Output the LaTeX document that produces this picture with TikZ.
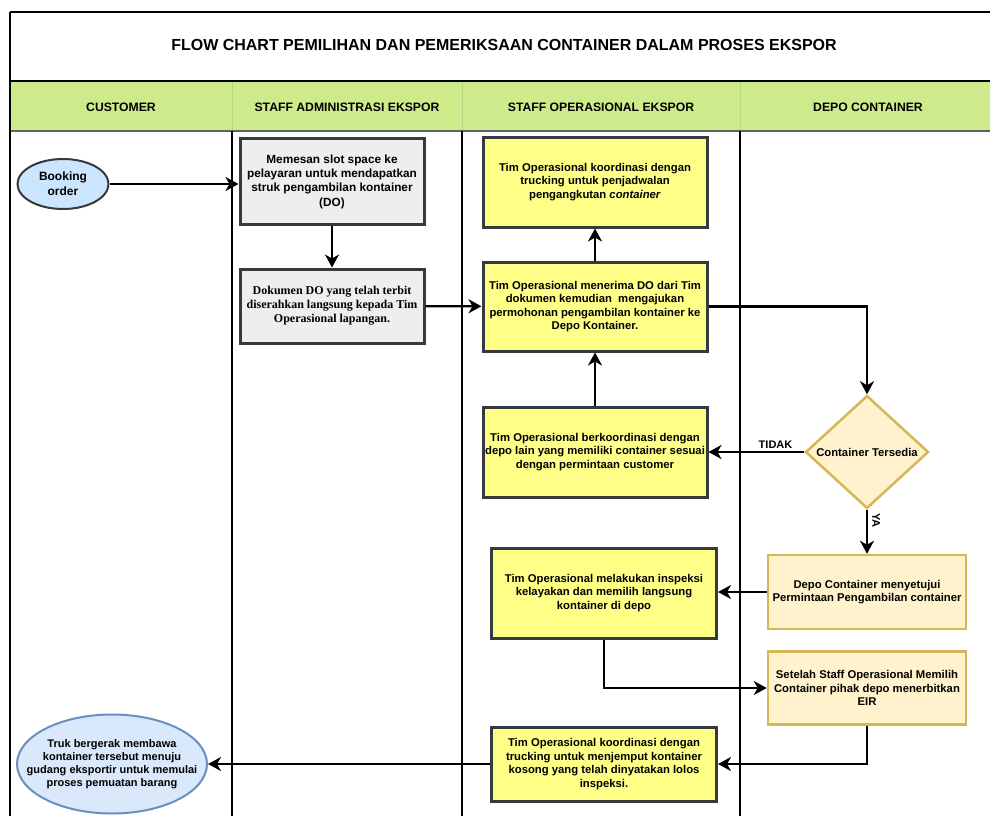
\documentclass[tikz,border=0pt]{standalone}
\usepackage{fontspec}
\setmainfont{Liberation Sans}
\newfontfamily\timesfont{Liberation Serif}
\usepackage{xcolor}
\usepackage{tikz}
\usetikzlibrary{
    arrows.meta,
    shapes.geometric,
}

\definecolor{laneGreen}{HTML}{CDEB8B}
\definecolor{laneGreenLine}{HTML}{B7D685}
\definecolor{boxGrey}{HTML}{EEEEEE}
\definecolor{boxBorder}{HTML}{36393D}
\definecolor{boxYellow}{HTML}{FFFF88}
\definecolor{depoFill}{HTML}{FFF2CC}
\definecolor{depoBorder}{HTML}{D6B656}
\definecolor{startFill}{HTML}{CCE5FF}
\definecolor{endFill}{HTML}{DAE8FC}
\definecolor{endBorder}{HTML}{6C8EBF}

\begin{document}
\begin{tikzpicture}[
    x=1pt,y=-1pt,
    font=\fontsize{11.3}{13.5}\selectfont\bfseries,
    admbox/.style={draw=boxBorder,fill=boxGrey,line width=3pt,
        minimum width=184,minimum height=#1,inner sep=0pt,align=center,
        font=\fontsize{11.8}{14.3}\selectfont\bfseries},
    opsbox/.style={draw=boxBorder,fill=boxYellow,line width=3pt,
        minimum width=224,minimum height=#1,inner sep=0pt,align=center},
    depobox/.style={draw=depoBorder,fill=depoFill,line width=2.5pt,
        minimum width=198,minimum height=#1,inner sep=0pt,align=center},
    conn/.style={draw=black,line width=2.3pt,
        -{Stealth[length=13pt,width=14pt,inset=4pt]}},
    lane/.style={draw=black,line width=2pt},
]
    \useasboundingbox (0,0) rectangle (990,816);
    % \draw[help lines] grid (990,816);

    % Header
    \begin{scope}
        % Title
        \draw[black,line width=2pt] (10,12) -- (1000,12);
        \node[font=\fontsize{16}{18}\selectfont\bfseries] (title) at (504,45)
            {FLOW CHART PEMILIHAN DAN PEMERIKSAAN CONTAINER DALAM PROSES EKSPOR};

        % Lane titles
        \fill[laneGreen] (10,81) rectangle (1000,131);
        \foreach \x in {232,462,740} {
            \draw[laneGreenLine,line width=1pt] (\x,81) -- (\x,131);
        }
        \draw[black,line width=1.5pt] (10,81) -- (1000,81);
        \draw[boxBorder!80,line width=2pt] (10,131) -- (1000,131);

        \foreach \x / \t / \n in {121/CUSTOMER/hcust,
                                 347/STAFF ADMINISTRASI EKSPOR/hadm,
                                 601/STAFF OPERASIONAL EKSPOR/hops,
                                 868/DEPO CONTAINER/hdepo} {
            \node[font=\fontsize{12.2}{14}\selectfont\bfseries] (\n) at (\x,107) {\t};
        }
    \end{scope}

    % Lanes
    \draw[lane] (10,12) -- (10,816);
    \foreach \x in {232,462,740} {
        \draw[lane] (\x,131) -- (\x,816);
    }

    % Customer
    \node[ellipse,draw=boxBorder,fill=startFill,line width=2pt,
        minimum width=91,minimum height=50,inner sep=0pt,align=center,
        font=\fontsize{12}{15}\selectfont\bfseries] (book) at (63,184)
        {Booking\\order};
    \node[ellipse,draw=endBorder,fill=endFill,line width=2pt,
        minimum width=190,minimum height=99,inner xsep=-40pt,inner ysep=-10pt,
        align=center,font=\fontsize{11}{13.2}\selectfont\bfseries]
        (selesai) at (112,764)
        {Truk bergerak membawa\\kontainer tersebut menuju\\gudang eksportir untuk memulai\\proses pemuatan barang};

    % Staff administrasi
    \node[admbox=86] (adm1) at (332,181.5)
        {Memesan slot space ke\\pelayaran untuk mendapatkan\\struk pengambilan kontainer\\(DO)};
    \node[admbox=74,font=\timesfont\fontsize{12}{14}\selectfont\bfseries]
        (adm2) at (332,306)
        {Dokumen DO yang telah terbit\\diserahkan langsung kepada Tim\\Operasional lapangan.};

    % Staff operasional
    \node[opsbox=90] (ops1) at (595,182)
        {Tim Operasional koordinasi dengan\\trucking untuk penjadwalan\\pengangkutan \textit{container}};
    \node[opsbox=89] (ops2) at (595,306.5)
        {Tim Operasional menerima DO dari Tim\\dokumen kemudian\ \ mengajukan\\permohonan pengambilan kontainer ke\\Depo Kontainer.};
    \node[opsbox=90] (ops3) at (595,452)
        {Tim Operasional berkoordinasi dengan\\depo lain yang memiliki container sesuai\\dengan permintaan customer};
    \node[opsbox=90,minimum width=225] (ops4) at (604,593)
        {Tim Operasional melakukan inspeksi\\kelayakan dan memilih langsung\\kontainer di depo};
    \node[opsbox=74,minimum width=225] (ops5) at (604,764)
        {Tim Operasional koordinasi dengan\\trucking untuk menjemput kontainer\\kosong yang telah dinyatakan lolos\\inspeksi.};

    % Depo container
    \node[diamond,draw=depoBorder,fill=depoFill,line width=2.5pt,
        minimum width=123,minimum height=113,aspect=1.09,inner sep=0pt]
        (cek) at (867,452) {Container Tersedia};
    \node[depobox=74] (depo1) at (867,592)
        {Depo Container menyetujui\\Permintaan Pengambilan container};
    \node[depobox=73] (depo2) at (867,688)
        {Setelah Staff Operasional Memilih\\Container pihak depo menerbitkan\\EIR};

    % Connectors
    \draw[conn] (book.east) -- (book.east -| adm1.west);
    \draw[conn,line width=1.5pt] (adm1) -- (adm2);
    \draw[conn] (adm2) -- (ops2);
    \draw[conn] (ops2) -- (ops1);
    \draw[conn] (ops2.east) -| (cek.north);
    \draw[conn] (cek.west) -- (cek.west -| ops3.east)
        node[pos=0.3,above=-1pt,font=\fontsize{11}{13}\selectfont\bfseries] {TIDAK};
    \draw[conn] (ops3) -- (ops2);
    \draw[conn] (cek.south) -- (depo1.north)
        node[pos=0.25,right=1pt,rotate=-90,anchor=south,
            font=\fontsize{11}{13}\selectfont\bfseries] {YA};
    \draw[conn] (depo1.west) -- (depo1.west -| ops4.east);
    \draw[conn] (ops4.south) |- (depo2.west);
    \draw[conn] (depo2.south) |- (ops5.east);
    \draw[conn] (ops5) -- (selesai);

\end{tikzpicture}
\end{document}
